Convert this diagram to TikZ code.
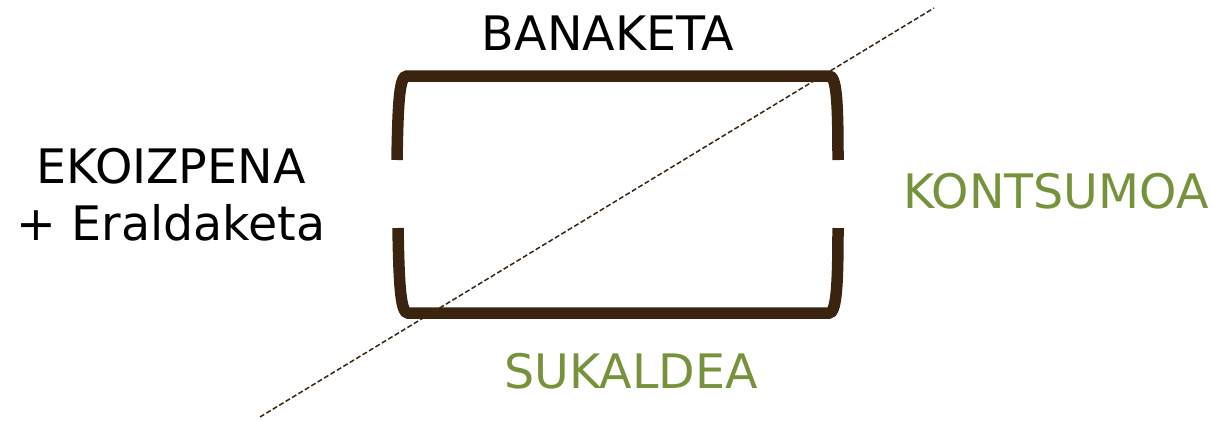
\documentclass[tikz,border=0pt]{standalone}
\usepackage{fontspec}
\setmainfont{DejaVu Sans}
\definecolor{brownline}{HTML}{3A2410}
\definecolor{olivegreen}{HTML}{76933C}
\begin{document}
\begin{tikzpicture}[x=1pt,y=-1pt,
  bracket/.style={draw=brownline,line width=11.5pt},
  divider/.style={draw=brownline,line width=1.5pt,dash pattern=on 5pt off 2.5pt},
  lbl/.style={font=\fontsize{47.5}{57}\selectfont,inner sep=0pt,anchor=base},
  greenlbl/.style={lbl,text=olivegreen}]
\useasboundingbox (0,0) rectangle (1214,420);
\draw[bracket] (397,160) .. controls (398,100) and (399.5,76) .. (407,76) -- (829,76) .. controls (836.5,76) and (838,100) .. (838,160);
\draw[bracket] (398,228) .. controls (399,285) and (400.5,313) .. (408,313) -- (829,313) .. controls (836.5,313) and (838,285) .. (838,228);
\coordinate (d1) at (260,417);
\coordinate (d2) at (934,8);
\draw[divider] (d1) -- (d2);
\node[lbl] (banaketa) at (608,51) {BANAKETA};
\node[lbl] (ekoizpena) at (171,183) {EKOIZPENA};
\node[lbl] (eraldaketa) at (171,240) {+ Eraldaketa};
\node[greenlbl] (kontsumoa) at (1056,208) {KONTSUMOA};
\node[greenlbl] (sukaldea) at (631,388) {SUKALDEA};
\end{tikzpicture}
\end{document}
